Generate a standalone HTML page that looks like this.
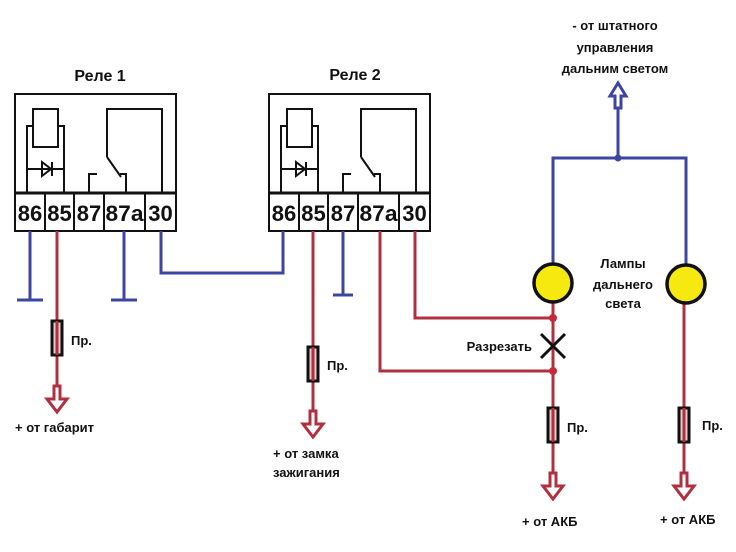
<!DOCTYPE html>
<html><head><meta charset="utf-8"><style>
html,body{margin:0;padding:0;background:#fff;}
svg{display:block;}
text{font-family:"Liberation Sans","DejaVu Sans",sans-serif;font-weight:bold;fill:#111;}
</style></head><body>
<svg width="736" height="552" viewBox="0 0 736 552" xmlns="http://www.w3.org/2000/svg">
<defs>
<g id="relay" fill="none" stroke="#111" stroke-width="2">
  <rect x="15" y="94" width="161" height="137" stroke-width="2"/>
  <line x1="15" y1="193" x2="176" y2="193" stroke-width="3"/>
  <line x1="45" y1="193" x2="45" y2="231"/>
  <line x1="74" y1="193" x2="74" y2="231"/>
  <line x1="104" y1="193" x2="104" y2="231"/>
  <line x1="145" y1="193" x2="145" y2="231"/>
  <rect x="33" y="109" width="25" height="38"/>
  <polyline points="33,126 27,126 27,193"/>
  <polyline points="58,126 64,126 64,193"/>
  <line x1="27" y1="169" x2="64" y2="169"/>
  <polygon points="42,162 42,176 51,169" fill="none"/>
  <line x1="52" y1="162" x2="52" y2="176"/>
  <polyline points="107,157 107,109 162,109 162,193"/>
  <line x1="107" y1="157" x2="121" y2="177"/>
  <polyline points="89,193 89,174 97,174"/>
  <polyline points="126,193 126,174 120,174"/>
  <g stroke="none" fill="#111" font-family="Liberation Sans, DejaVu Sans, sans-serif" font-weight="bold" font-size="22" text-anchor="middle">
    <text x="30" y="221">86</text>
    <text x="59.5" y="221">85</text>
    <text x="89" y="221">87</text>
    <text x="124.5" y="221" textLength="38" lengthAdjust="spacingAndGlyphs">87a</text>
    <text x="160.5" y="221">30</text>
  </g>
</g>
<g id="fuse">
  <rect x="-5" y="0" width="10" height="34" fill="#e8c8c8" stroke="#111" stroke-width="3"/>
  <line x1="0" y1="0" x2="0" y2="34" stroke="#b03040" stroke-width="3"/>
</g>
<g id="darr" fill="none" stroke="#b03040" stroke-width="3" stroke-linejoin="miter">
  <polygon points="-3,0 3,0 3,13 10,13 0,26 -10,13 -3,13"/>
</g>
</defs>

<text x="100" y="81" font-size="16" text-anchor="middle">Реле 1</text>
<text x="355" y="80" font-size="16" text-anchor="middle">Реле  2</text>

<use href="#relay"/>
<use href="#relay" transform="translate(254,0)"/>

<g stroke="#3c46a0" stroke-width="3" fill="none">
  <line x1="30" y1="231" x2="30" y2="300"/>
  <line x1="17" y1="300" x2="43" y2="300"/>
  <line x1="124" y1="231" x2="124" y2="300"/>
  <line x1="111" y1="300" x2="137" y2="300"/>
  <polyline points="161,231 161,273 283,273 283,231"/>
  <line x1="343" y1="231" x2="343" y2="295"/>
  <line x1="333" y1="295" x2="353" y2="295"/>
  <polyline points="553,263 553,158 686,158 686,264"/>
  <line x1="618" y1="158" x2="618" y2="108"/>
</g>
<circle cx="618" cy="158" r="3.5" fill="#3c46a0"/>
<polygon points="615,108 621,108 621,96 626,96 618,83 610,96 615,96" fill="#fff" stroke="#3c46a0" stroke-width="3"/>

<g stroke="#b03040" stroke-width="3" fill="none">
  <line x1="57" y1="231" x2="57" y2="385"/>
  <line x1="313" y1="231" x2="313" y2="410"/>
  <polyline points="380,231 380,371 553,371"/>
  <polyline points="415,231 415,318 553,318"/>
  <line x1="553" y1="303" x2="553" y2="472"/>
  <line x1="684" y1="304" x2="684" y2="472"/>
</g>
<circle cx="553" cy="318" r="4" fill="#c8283c"/>
<circle cx="553" cy="371" r="4" fill="#c8283c"/>

<use href="#fuse" transform="translate(57,321)"/>
<use href="#fuse" transform="translate(313,347)"/>
<use href="#fuse" transform="translate(553,408)"/>
<use href="#fuse" transform="translate(684,408)"/>

<use href="#darr" transform="translate(57,386)"/>
<use href="#darr" transform="translate(313,411)"/>
<use href="#darr" transform="translate(553,473)"/>
<use href="#darr" transform="translate(684,473)"/>

<circle cx="553" cy="283" r="19" fill="#f5e90f" stroke="#111" stroke-width="3.5"/>
<circle cx="686" cy="284" r="19" fill="#f5e90f" stroke="#111" stroke-width="3.5"/>

<g stroke="#111" stroke-width="3">
  <line x1="541" y1="334" x2="565" y2="358"/>
  <line x1="565" y1="334" x2="541" y2="358"/>
</g>

<g font-size="13">
  <text x="71" y="345">Пр.</text>
  <text x="327" y="370">Пр.</text>
  <text x="567" y="432">Пр.</text>
  <text x="702" y="430">Пр.</text>
  <text x="15" y="432">+ от габарит</text>
  <text x="273" y="458">+ от замка</text>
  <text x="273" y="477">зажигания</text>
  <text x="522" y="526">+ от АКБ</text>
  <text x="660" y="524">+ от АКБ</text>
  <text x="532" y="351" text-anchor="end">Разрезать</text>
  <text x="623" y="268" text-anchor="middle">Лампы</text>
  <text x="623" y="289" text-anchor="middle">дальнего</text>
  <text x="623" y="308" text-anchor="middle">света</text>
  <text x="615" y="30" text-anchor="middle">- от штатного</text>
  <text x="615" y="52" text-anchor="middle">управления</text>
  <text x="615" y="73" text-anchor="middle">дальним светом</text>
</g>
</svg>
</body></html>
